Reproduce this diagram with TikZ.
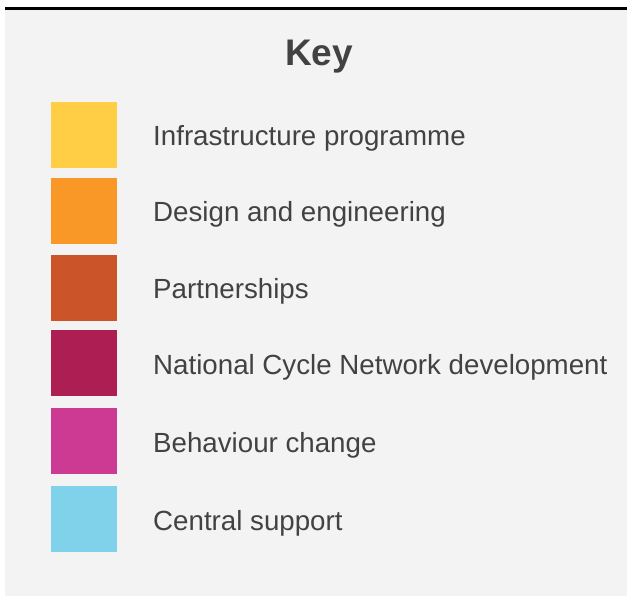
\documentclass[tikz,border=0pt]{standalone}
\usepackage{fontspec}
\setmainfont{Liberation Sans}

\definecolor{keybg}{RGB}{243,243,243}
\definecolor{keytext}{RGB}{66,66,66}
\definecolor{infracol}{RGB}{255,206,68}
\definecolor{designcol}{RGB}{249,152,38}
\definecolor{partnercol}{RGB}{204,84,41}
\definecolor{ncncol}{RGB}{173,30,82}
\definecolor{behavcol}{RGB}{204,58,148}
\definecolor{centralcol}{RGB}{128,210,234}

\tikzset{
  swatch/.style={fill=#1, draw=none, minimum width=66pt, minimum height=66pt, inner sep=0pt, anchor=north west},
  keylabel/.style={anchor=base west, inner sep=0pt, text=keytext, font=\fontsize{27.7}{32}\selectfont},
}

\begin{document}
\begin{tikzpicture}[x=1pt,y=1pt,yscale=-1,xscale=1]
\useasboundingbox (0,0) rectangle (627,596);

%Shape: Rectangle [id:background]
\fill [keybg] (5,9) rectangle (627,596);
%Straight Lines [id:topline]
\draw [line width=3pt, black] (5,8.5) -- (627,8.5);

% Text Node
\node (title) [anchor=base, inner sep=0pt, text=keytext, font=\fontsize{37}{42}\selectfont\bfseries] at (319,65.7) {Key};

%Shape: Square [id:infra]
\node (infra) [swatch=infracol] at (51,102) {};
%Shape: Square [id:design]
\node (design) [swatch=designcol] at (51,178) {};
%Shape: Square [id:partner]
\node (partner) [swatch=partnercol] at (51,255) {};
%Shape: Square [id:ncn]
\node (ncn) [swatch=ncncol] at (51,330) {};
%Shape: Square [id:behav]
\node (behav) [swatch=behavcol] at (51,408) {};
%Shape: Square [id:central]
\node (central) [swatch=centralcol] at (51,486) {};

% Text Node
\node (infratext) [keylabel] at (153,146) {Infrastructure programme};
% Text Node
\node (designtext) [keylabel] at (153,222) {Design and engineering};
% Text Node
\node (partnertext) [keylabel] at (153,299) {Partnerships};
% Text Node
\node (ncntext) [keylabel] at (153,374) {National Cycle Network development};
% Text Node
\node (behavtext) [keylabel] at (153,452) {Behaviour change};
% Text Node
\node (centraltext) [keylabel] at (153,530) {Central support};

\end{tikzpicture}
\end{document}
